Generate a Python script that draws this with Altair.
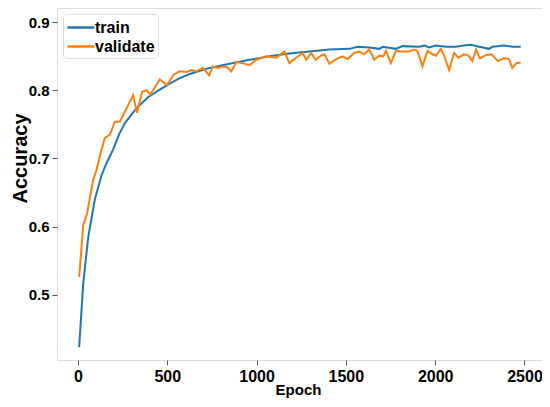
import altair as alt
import pandas as pd

train_epoch = [7, 30, 58, 95, 132, 160, 197, 230, 263, 328, 393, 458, 514, 570, 626, 737, 849, 961,
               1073, 1184, 1296, 1408, 1520, 1566, 1631, 1687, 1706, 1780, 1817, 1911, 1939,
               1966, 2004, 2060, 2116, 2162, 2199, 2246, 2302, 2320, 2385, 2432, 2479]
train_acc = [0.423, 0.517, 0.585, 0.640, 0.675, 0.693, 0.713, 0.735, 0.752, 0.774, 0.790, 0.801,
             0.810, 0.818, 0.824, 0.833, 0.839, 0.845, 0.850, 0.854, 0.857, 0.860, 0.861, 0.864,
             0.863, 0.861, 0.864, 0.861, 0.865, 0.864, 0.866, 0.863, 0.866, 0.864, 0.864, 0.866,
             0.867, 0.864, 0.861, 0.864, 0.866, 0.864, 0.864]

val_epoch = [7, 30, 52, 85, 104, 132, 151, 179, 207, 235, 309, 331, 359, 384, 406, 458, 499, 536,
             570, 607, 635, 663, 700, 734, 756, 784, 812, 834, 859, 887, 923, 961, 998, 1054,
             1110, 1156, 1184, 1222, 1259, 1278, 1306, 1330, 1361, 1380, 1408, 1445, 1482, 1510,
             1547, 1575, 1603, 1631, 1659, 1687, 1709, 1725, 1752, 1780, 1817, 1855, 1883, 1901,
             1929, 1957, 1985, 2004, 2032, 2050, 2078, 2106, 2130, 2162, 2186, 2208, 2229, 2250,
             2287, 2315, 2352, 2385, 2413, 2432, 2455, 2479]
val_acc = [0.526, 0.602, 0.620, 0.668, 0.683, 0.713, 0.730, 0.735, 0.754, 0.754, 0.793, 0.767,
           0.798, 0.800, 0.794, 0.816, 0.808, 0.823, 0.828, 0.827, 0.830, 0.828, 0.833, 0.822,
           0.835, 0.833, 0.835, 0.834, 0.828, 0.842, 0.840, 0.837, 0.845, 0.850, 0.848, 0.857,
           0.840, 0.848, 0.855, 0.845, 0.855, 0.845, 0.851, 0.853, 0.839, 0.846, 0.850, 0.846,
           0.855, 0.857, 0.853, 0.860, 0.845, 0.851, 0.850, 0.858, 0.840, 0.858, 0.857, 0.857,
           0.860, 0.858, 0.835, 0.858, 0.853, 0.851, 0.861, 0.851, 0.830, 0.855, 0.848, 0.853,
           0.851, 0.843, 0.860, 0.847, 0.852, 0.853, 0.843, 0.847, 0.846, 0.833, 0.840, 0.841]

x_ticks = [0, 500, 1000, 1500, 2000, 2500]
y_ticks = [0.5, 0.6, 0.7, 0.8, 0.9]

df = pd.concat([
    pd.DataFrame({"Epoch": train_epoch, "Accuracy": train_acc, "series": "train"}),
    pd.DataFrame({"Epoch": val_epoch, "Accuracy": val_acc, "series": "validate"}),
])

FONT = "Liberation Sans"

chart = alt.Chart(df).mark_line(strokeWidth=2).encode(
    x=alt.X("Epoch:Q",
            scale=alt.Scale(domain=[-117, 2598], nice=False, zero=False),
            axis=alt.Axis(values=x_ticks, format="d", grid=False, domain=False, tickColor="#555",
                          tickSize=5, labelFontSize=16, labelFont=FONT, labelFontWeight="bold",
                          labelColor="black", labelPadding=3, title="Epoch",
                          titleFont=FONT, titleFontSize=15, titleFontWeight="bold",
                          titleColor="black", titleBaseline="alphabetic",
                          titleX=241, titleY=34)),
    y=alt.Y("Accuracy:Q",
            scale=alt.Scale(domain=[0.404, 0.921], nice=False, zero=False),
            axis=alt.Axis(values=y_ticks, format=".1f", grid=False, domain=False,
                          tickColor="#555", tickSize=5, labelFontSize=15, labelFont=FONT,
                          labelFontWeight="bold", labelColor="black", labelPadding=3,
                          title="Accuracy", titleFont=FONT, titleFontSize=20,
                          titleFontWeight="bold", titleColor="black",
                          titleBaseline="alphabetic", titleAngle=270,
                          titleX=-31, titleY=150)),
    color=alt.Color("series:N",
                    scale=alt.Scale(domain=["train", "validate"], range=["#1f77b4", "#ff7f0e"]),
                    legend=alt.Legend(title=None, orient="none", legendX=6, legendY=6,
                                      symbolType="M-1,0H2", symbolSize=324, symbolStrokeWidth=2.5,
                                      labelFont=FONT, labelFontSize=16, labelFontWeight="bold",
                                      labelColor="black", labelOffset=8, rowPadding=0,
                                      padding=3, strokeColor="#ddd", cornerRadius=3,
                                      fillColor="white")),
).properties(
    width=485, height=352,
    autosize=alt.AutoSizeParams(type="none"),
    padding={"left": 49, "top": 0, "right": 0, "bottom": 39},
).configure_view(stroke="#555", strokeWidth=1).configure(background="white")

chart.save("out.html", embed_options={"renderer": "svg", "actions": False})
